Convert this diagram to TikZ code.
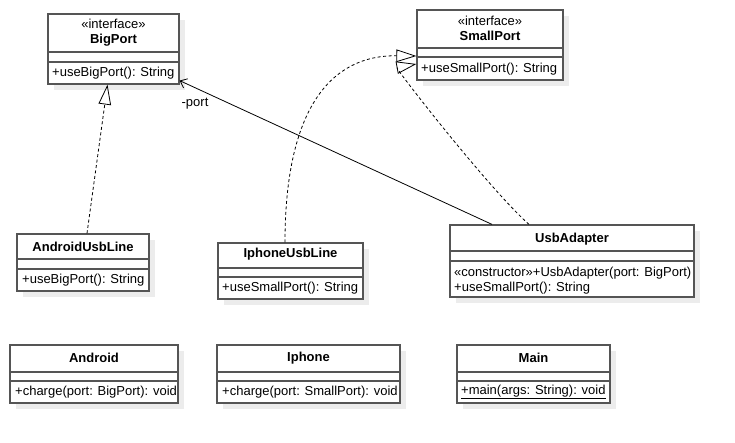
\documentclass[tikz,border=0pt]{standalone}
\usepackage{fontspec}
\setmainfont{Liberation Sans}
\usetikzlibrary{arrows.meta}
\usetikzlibrary{shadows}
\definecolor{boxgray}{RGB}{85,85,85}
\definecolor{shadowgray}{RGB}{236,236,236}
\newcommand{\umlfont}{\fontsize{13}{15.5}\selectfont}
\tikzset{
    classbox/.style={
        draw=boxgray, line width=1.2pt, fill=white, inner sep=0pt,
        drop shadow={shadow xshift=6pt, shadow yshift=-6pt, fill=shadowgray, opacity=1}
    },
    sepline/.style={draw=boxgray, line width=1.2pt},
    cname/.style={font=\umlfont\bfseries, inner sep=0pt},
    stereo/.style={font=\umlfont, inner sep=0pt},
    member/.style={font=\umlfont, inner sep=0pt, anchor=west, align=left},
    realize/.style={dash pattern=on 3pt off 2.5pt, line width=0.8pt,
        -{Triangle[open, length=20pt, width=12.5pt, line width=0.8pt]}},
    assoc/.style={line width=0.8pt, -{Straight Barb[length=6pt, width=10pt]}}
}

\begin{document}
\begin{tikzpicture}[x=1pt, y=-1pt, font=\umlfont]
    \useasboundingbox (0,0) rectangle (735,443);

    % interfaces
    \node[classbox, minimum width=131pt, minimum height=70pt] (BIGPORT) at (113.5,49) {};
    \draw[sepline] (48,52) -- (179,52);
    \draw[sepline] (48,62) -- (179,62);
    \node[stereo] (BIGPORTS) at (113.5,24) {«interface»};
    \node[cname] (BIGPORTN) at (113.5,40) {BigPort};
    \node[member] (BIGPORTM) at (52,73) {+useBigPort(): String};

    \node[classbox, minimum width=146pt, minimum height=70pt] (SMALLPORT) at (490,45) {};
    \draw[sepline] (417,48) -- (563,48);
    \draw[sepline] (417,57) -- (563,57);
    \node[stereo] (SMALLPORTS) at (490,21) {«interface»};
    \node[cname] (SMALLPORTN) at (490,36) {SmallPort};
    \node[member] (SMALLPORTM) at (421,69) {+useSmallPort(): String};

    % implementations
    \node[classbox, minimum width=132pt, minimum height=57pt] (ANDROIDLINE) at (83,262.5) {};
    \draw[sepline] (17,259) -- (149,259);
    \draw[sepline] (17,269) -- (149,269);
    \node[cname] (ANDROIDLINEN) at (83,247) {AndroidUsbLine};
    \node[member] (ANDROIDLINEM) at (22,280) {+useBigPort(): String};

    \node[classbox, minimum width=145pt, minimum height=56pt] (IPHONELINE) at (290.5,271) {};
    \draw[sepline] (218,268) -- (363,268);
    \draw[sepline] (218,277) -- (363,277);
    \node[cname] (IPHONELINEN) at (290.5,254) {IphoneUsbLine};
    \node[member] (IPHONELINEM) at (222,288) {+useSmallPort(): String};

    \node[classbox, minimum width=244pt, minimum height=72pt] (USBADAPTER) at (572,261) {};
    \draw[sepline] (450,251) -- (694,251);
    \draw[sepline] (450,261) -- (694,261);
    \node[cname] (USBADAPTERN) at (572,239) {UsbAdapter};
    \node[member] (USBADAPTERM) at (454,280.5) {«constructor»+UsbAdapter(port: BigPort)\\+useSmallPort(): String};

    % clients
    \node[classbox, minimum width=168pt, minimum height=58pt] (ANDROID) at (94,374) {};
    \draw[sepline] (10,372) -- (178,372);
    \draw[sepline] (10,381) -- (178,381);
    \node[cname] (ANDROIDN) at (94,358) {Android};
    \node[member] (ANDROIDM) at (15,392) {+charge(port: BigPort): void};

    \node[classbox, minimum width=183pt, minimum height=58pt] (IPHONE) at (308.5,374) {};
    \draw[sepline] (217,372) -- (400,372);
    \draw[sepline] (217,381) -- (400,381);
    \node[cname] (IPHONEN) at (308.5,358) {Iphone};
    \node[member] (IPHONEM) at (222,392) {+charge(port: SmallPort): void};

    \node[classbox, minimum width=153pt, minimum height=58pt] (MAIN) at (533.5,374) {};
    \draw[sepline] (457,372) -- (610,372);
    \draw[sepline] (457,381) -- (610,381);
    \node[cname] (MAINN) at (533.5,358) {Main};
    \node[member] (MAINM) at (461,392) {\underline{+main(args: String): void}};

    % relations
    \draw[realize] ([xshift=4pt]ANDROIDLINE.north) -- ([xshift=-6pt]BIGPORT.south);
    \draw[realize] ([xshift=-5.5pt]IPHONELINE.north) .. controls (285,110) and (330,55) .. ([yshift=-11pt]SMALLPORT.west);
    \draw[realize] ([xshift=-43pt]USBADAPTER.north) .. controls (490,190) and (395,68) .. ([yshift=-19pt]SMALLPORT.west);
    \draw[assoc] ([xshift=-80pt]USBADAPTER.north) -- ([yshift=4pt]BIGPORT.south east);
    \node[font=\umlfont] (PORTLABEL) at (195,104) {-port};
\end{tikzpicture}
\end{document}
